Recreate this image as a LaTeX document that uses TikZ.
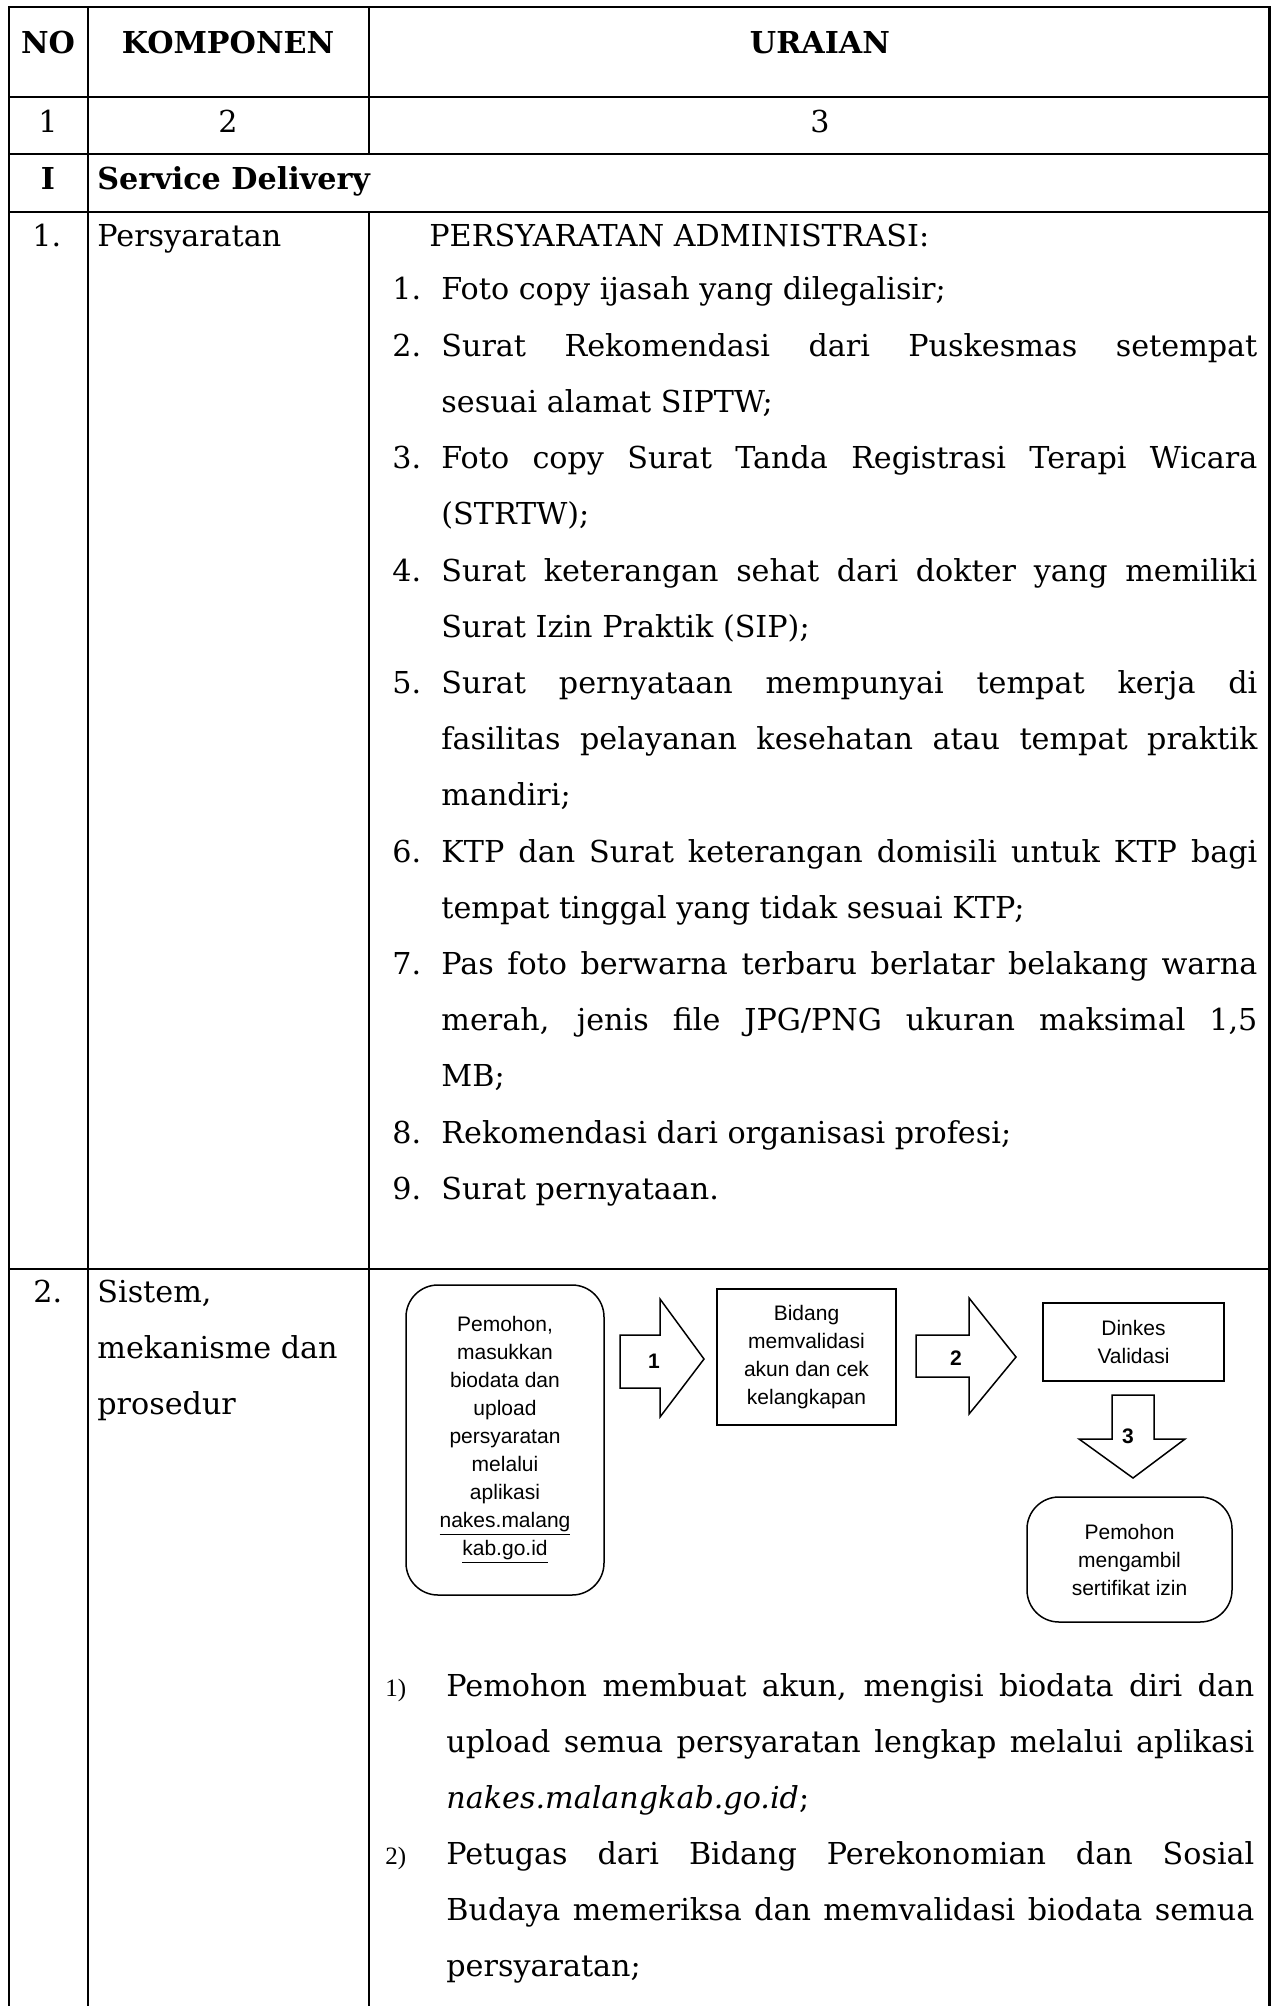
\documentclass[tikz,border=0pt]{standalone}
\usepackage{fontspec}
\usepackage{graphicx}
\setmainfont{DejaVu Serif}
\newfontfamily\arialf{Liberation Sans}
\newfontfamily\timesf{Liberation Serif}
\newcommand\fsz{\fontsize{15.1}{18}\selectfont}
\newcommand\jline[2]{\setbox0\hbox{#2}\ifdim\wd0>#1\relax\resizebox{#1}{\height}{\box0}\else\makebox[#1][s]{#2}\fi}
\tikzset{
  tline/.style={line width=1.25pt, line cap=rect},
  tx/.style={anchor=base west, inner sep=0pt, font=\fsz},
  tc/.style={anchor=base, inner sep=0pt, font=\fsz},
  th/.style={anchor=base, inner sep=0pt, font=\fsz\bfseries},
  num/.style={anchor=base west, inner sep=0pt, font=\timesf\fontsize{12.5}{14}\selectfont},
  dbox/.style={draw, line width=0.75pt, inner sep=0pt, align=center,
     font=\arialf\fontsize{10.5}{14}\selectfont},
  rbox/.style={dbox, rounded corners=16pt},
  barrow/.style={draw, line width=0.75pt, fill=white},
  alab/.style={inner sep=0pt, font=\arialf\bfseries\fontsize{10.5}{12}\selectfont}
}
\begin{document}
\begin{tikzpicture}[x=0.5pt,y=-0.5pt]
\useasboundingbox (0,0) rectangle (1271,2006);
\fill[white] (0,0) rectangle (1271,2006);
% ---------- table grid ----------
\draw[tline] (9,7) -- (1270,7);
\draw[tline] (9,97) -- (1270,97);
\draw[tline] (9,154) -- (1270,154);
\draw[tline] (9,212) -- (1270,212);
\draw[tline] (9,1269) -- (1270,1269);
\draw[tline] (9,7) -- (9,2010);
\draw[tline] (88,7) -- (88,2010);
\draw[tline] (369,7) -- (369,154);
\draw[tline] (369,212) -- (369,2010);
\draw[line width=1.6pt] (1269.3,6.4) -- (1269.3,2010);
% ---------- header ----------
\node[th] (hno) at (48,54) {NO};
\node[th] (hkomp) at (228,54) {KOMPONEN};
\node[th] (hur) at (820,54) {URAIAN};
\node[tc] (c1) at (48,133) {1};
\node[tc] (c2) at (228,133) {2};
\node[tc] (c3) at (820,133) {3};
\node[th] (sI) at (48,190) {I};
\node[th,anchor=base west] (sd) at (97,190) {Service Delivery};
% ---------- row 1 ----------
\node[tx] (n1) at (32,247) {1.};
\node[tx] (k1) at (97,247) {Persyaratan};
\node[tx] (pa) at (429,247) {PERSYARATAN ADMINISTRASI:};
\node[tx] (i1n) at (392,300) {1.};
\node[tx] (l1) at (441,300) {Foto copy ijasah yang dilegalisir;};
\node[tx] (i2n) at (392,356.2) {2.};
\node[tx] (l2) at (441,356.2) {\jline{408pt}{Surat Rekomendasi dari Puskesmas setempat}};
\node[tx] (l3) at (441,412.4) {sesuai alamat SIPTW;};
\node[tx] (i3n) at (392,468.6) {3.};
\node[tx] (l4) at (441,468.6) {\jline{408pt}{Foto copy Surat Tanda Registrasi Terapi Wicara}};
\node[tx] (l5) at (441,524.8) {(STRTW);};
\node[tx] (i4n) at (392,581) {4.};
\node[tx] (l6) at (441,581) {\jline{408pt}{Surat keterangan sehat dari dokter yang memiliki}};
\node[tx] (l7) at (441,637.2) {Surat Izin Praktik (SIP);};
\node[tx] (i5n) at (392,693.4) {5.};
\node[tx] (l8) at (441,693.4) {\jline{408pt}{Surat pernyataan mempunyai tempat kerja di}};
\node[tx] (l9) at (441,749.6) {\jline{408pt}{fasilitas pelayanan kesehatan atau tempat praktik}};
\node[tx] (l10) at (441,805.8) {mandiri;};
\node[tx] (i6n) at (392,862) {6.};
\node[tx] (l11) at (441,862) {\jline{408pt}{KTP dan Surat keterangan domisili untuk KTP bagi}};
\node[tx] (l12) at (441,918.2) {tempat tinggal yang tidak sesuai KTP;};
\node[tx] (i7n) at (392,974.4) {7.};
\node[tx] (l13) at (441,974.4) {\jline{408pt}{Pas foto berwarna terbaru berlatar belakang warna}};
\node[tx] (l14) at (441,1030.6) {\jline{408pt}{merah, jenis file JPG/PNG ukuran maksimal 1,5}};
\node[tx] (l15) at (441,1086.8) {MB;};
\node[tx] (i8n) at (392,1143) {8.};
\node[tx] (l16) at (441,1143) {Rekomendasi dari organisasi profesi;};
\node[tx] (i9n) at (392,1199.2) {9.};
\node[tx] (l17) at (441,1199.2) {Surat pernyataan.};
% ---------- row 2 ----------
\node[tx] (n2) at (33,1302) {2.};
\node[tx] (k2a) at (97,1302) {Sistem,};
\node[tx] (k2b) at (97,1358) {mekanisme dan};
\node[tx] (k2c) at (97,1414) {prosedur};
% ---------- flow diagram ----------
\node[rbox, minimum width=99pt, minimum height=155pt] (bA) at (505,1440)
  {Pemohon,\\masukkan\\biodata dan\\upload\\persyaratan\\melalui\\aplikasi\\\underline{nakes.malang}\\\underline{kab.go.id}};
\node[dbox, minimum width=89.5pt, minimum height=68pt] (bB) at (806.5,1357)
  {Bidang\\memvalidasi\\akun dan cek\\kelangkapan};
\node[dbox, minimum width=90.5pt, minimum height=39pt] (bC) at (1133.5,1342)
  {Dinkes\\Validasi};
\node[rbox, minimum width=102.5pt, minimum height=62.5pt] (bD) at (1129.5,1559.5)
  {Pemohon\\mengambil\\sertifikat izin};
% block arrows
\draw[barrow] (620,1335) -- (660,1335) -- (660,1299) -- (704,1359) -- (660,1417) -- (660,1388) -- (620,1388) -- cycle;
\draw[barrow] (916,1335) -- (969,1335) -- (969,1298) -- (1016,1357) -- (969,1414) -- (969,1377) -- (916,1377) -- cycle;
\draw[barrow] (1112,1395) -- (1154,1395) -- (1154,1439) -- (1185,1439) -- (1133,1478) -- (1079,1439) -- (1112,1439) -- cycle;
\node[alab] (a1) at (654,1361) {1};
\node[alab] (a2) at (956,1358) {2};
\node[alab] (a3) at (1128,1436) {3};
% ---------- procedure list ----------
\node[num] (p1n) at (385,1696) {1)};
\node[tx] (p1) at (446,1696) {\jline{404pt}{Pemohon membuat akun, mengisi biodata diri dan}};
\node[tx] (p2) at (446,1752) {\jline{404pt}{upload semua persyaratan lengkap melalui aplikasi}};
\node[tx] (p3) at (446,1808) {\textit{nakes.malangkab.go.id};};
\node[num] (p2n) at (385,1864) {2)};
\node[tx] (p4) at (446,1864) {\jline{404pt}{Petugas dari Bidang Perekonomian dan Sosial}};
\node[tx] (p5) at (446,1920) {\jline{404pt}{Budaya memeriksa dan memvalidasi biodata semua}};
\node[tx] (p6) at (446,1976) {persyaratan;};
\end{tikzpicture}
\end{document}
